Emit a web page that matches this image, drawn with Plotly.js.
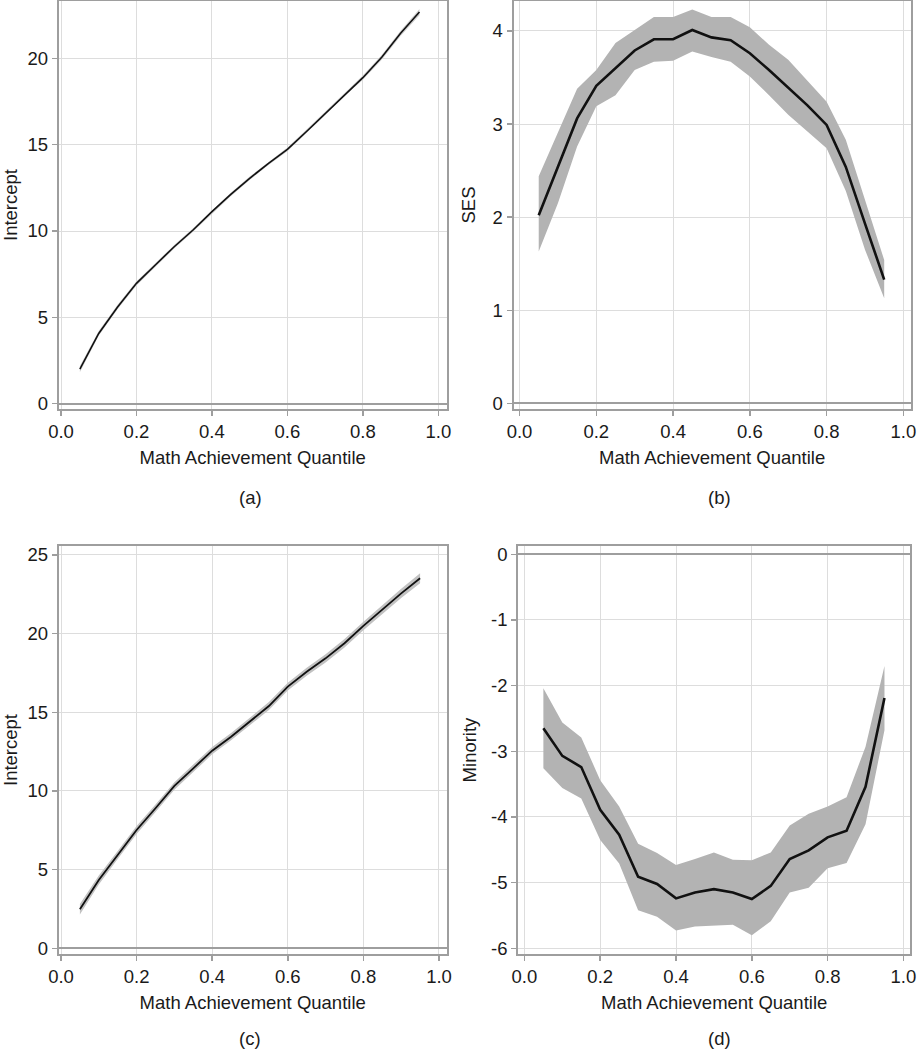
<!DOCTYPE html>
<html>
<head>
<meta charset="utf-8">
<script src="https://cdn.plot.ly/plotly-3.0.1.min.js"></script>
<style>
  html, body { margin: 0; padding: 0; background: #ffffff; }
  #chart { width: 917px; height: 1050px; }
</style>
</head>
<body>
<div id="chart"></div>
<script>
// ---- Data ----
const quantile = [0.05, 0.10, 0.15, 0.20, 0.25, 0.30, 0.35, 0.40, 0.45, 0.50,
                  0.55, 0.60, 0.65, 0.70, 0.75, 0.80, 0.85, 0.90, 0.95];

// Panel (a): Intercept
const interceptA      = [2.00, 4.07, 5.60, 6.97, 8.03, 9.09, 10.06, 11.12, 12.12, 13.05,
                         13.92, 14.73, 15.75, 16.81, 17.88, 18.88, 20.06, 21.45, 22.68];
const interceptALower = [1.82, 3.93, 5.47, 6.85, 7.92, 8.99, 9.96, 11.02, 12.02, 12.95,
                         13.82, 14.62, 15.64, 16.70, 17.77, 18.76, 19.92, 21.30, 22.50];
const interceptAUpper = [2.18, 4.21, 5.73, 7.09, 8.14, 9.19, 10.16, 11.22, 12.22, 13.15,
                         14.02, 14.84, 15.86, 16.92, 17.99, 19.00, 20.20, 21.60, 22.86];

// Panel (b): SES
const ses      = [2.02, 2.54, 3.06, 3.41, 3.60, 3.79, 3.91, 3.91, 4.01, 3.93,
                  3.90, 3.76, 3.58, 3.39, 3.20, 2.99, 2.54, 1.93, 1.33];
const sesUpper = [2.44, 2.92, 3.38, 3.58, 3.87, 4.01, 4.15, 4.15, 4.23, 4.15,
                  4.15, 4.04, 3.85, 3.69, 3.47, 3.24, 2.83, 2.19, 1.54];
const sesLower = [1.63, 2.15, 2.76, 3.19, 3.31, 3.58, 3.67, 3.68, 3.78, 3.72,
                  3.67, 3.51, 3.31, 3.10, 2.92, 2.74, 2.28, 1.65, 1.13];

// Panel (c): Intercept
const interceptC      = [2.48, 4.34, 5.93, 7.52, 8.90, 10.32, 11.44, 12.56, 13.45, 14.41,
                         15.40, 16.63, 17.58, 18.43, 19.39, 20.49, 21.55, 22.56, 23.52];
const interceptCLower = [2.15, 4.06, 5.67, 7.27, 8.66, 10.08, 11.20, 12.33, 13.22, 14.17,
                         15.15, 16.38, 17.33, 18.17, 19.12, 20.22, 21.27, 22.27, 23.20];
const interceptCUpper = [2.81, 4.62, 6.19, 7.77, 9.14, 10.56, 11.68, 12.79, 13.68, 14.65,
                         15.65, 16.88, 17.83, 18.69, 19.66, 20.76, 21.83, 22.85, 23.84];

// Panel (d): Minority
const minority      = [-2.65, -3.07, -3.24, -3.89, -4.27, -4.91, -5.02, -5.24, -5.15, -5.10,
                       -5.15, -5.25, -5.05, -4.64, -4.51, -4.31, -4.21, -3.54, -2.19];
const minorityUpper = [-2.04, -2.56, -2.79, -3.44, -3.84, -4.41, -4.55, -4.73, -4.64, -4.54,
                       -4.65, -4.66, -4.54, -4.13, -3.95, -3.84, -3.70, -2.93, -1.70];
const minorityLower = [-3.26, -3.56, -3.72, -4.35, -4.71, -5.42, -5.52, -5.73, -5.67, -5.65,
                       -5.64, -5.80, -5.59, -5.15, -5.08, -4.78, -4.70, -4.11, -2.68];

// Tick labels
const xTickVals = [0.0, 0.2, 0.4, 0.6, 0.8, 1.0];
const xTickText = ["0.0", "0.2", "0.4", "0.6", "0.8", "1.0"];
const yTickValsA = [0, 5, 10, 15, 20];
const yTickValsB = [0, 1, 2, 3, 4];
const yTickValsC = [0, 5, 10, 15, 20, 25];
const yTickValsD = [0, -1, -2, -3, -4, -5, -6];
const yTickTextD = ["0", "-1", "-2", "-3", "-4", "-5", "-6"];
const xTitle = "Math Achievement Quantile";
const yTitles = ["Intercept", "SES", "Intercept", "Minority"];
const panelLabels = ["(a)", "(b)", "(c)", "(d)"];

// ---- Helpers ----
function bandTraces(x, lower, upper, mid, xa, ya, fillColor, lineWidth) {
  return [
    { x: x, y: lower, xaxis: xa, yaxis: ya, type: "scatter", mode: "lines",
      line: { width: 0, color: fillColor }, hoverinfo: "skip", showlegend: false },
    { x: x, y: upper, xaxis: xa, yaxis: ya, type: "scatter", mode: "lines",
      fill: "tonexty", fillcolor: fillColor,
      line: { width: 0, color: fillColor }, hoverinfo: "skip", showlegend: false },
    { x: x, y: mid, xaxis: xa, yaxis: ya, type: "scatter", mode: "lines",
      line: { width: lineWidth, color: "#111111" }, showlegend: false }
  ];
}

const data = []
  .concat(bandTraces(quantile, interceptALower, interceptAUpper, interceptA, "x", "y", "#cfcfcf", 1.6))
  .concat(bandTraces(quantile, sesLower, sesUpper, ses, "x2", "y2", "#b3b3b3", 2.6))
  .concat(bandTraces(quantile, interceptCLower, interceptCUpper, interceptC, "x3", "y3", "#c2c2c2", 1.8))
  .concat(bandTraces(quantile, minorityLower, minorityUpper, minority, "x4", "y4", "#b3b3b3", 2.6));

const FONT = "Liberation Sans, Arial, sans-serif";
const FS = 18.5;
const textColor = "#1a1a1a";
const frameColor = "#9e9e9e";
const gridColor = "#dddddd";

function xAxis(domain, range, anchor, standoff) {
  return {
    domain: domain, range: range, anchor: anchor,
    tickmode: "array", tickvals: xTickVals, ticktext: xTickText,
    ticklabeloverflow: "allow",
    showgrid: true, gridcolor: gridColor, gridwidth: 1,
    zeroline: false,
    showline: true, mirror: true, linecolor: frameColor, linewidth: 2,
    ticks: "outside", ticklen: 5, tickcolor: frameColor, tickwidth: 1.5,
    tickfont: { family: FONT, size: FS, color: textColor },
    title: { text: xTitle, font: { family: FONT, size: FS, color: textColor }, standoff: standoff },
    fixedrange: true
  };
}
function yAxis(domain, range, anchor, tickvals, ticktext, title, standoff) {
  return {
    domain: domain, range: range, anchor: anchor,
    tickmode: "array", tickvals: tickvals, ticktext: ticktext,
    ticklabeloverflow: "allow",
    showgrid: true, gridcolor: gridColor, gridwidth: 1,
    zeroline: true, zerolinecolor: frameColor, zerolinewidth: 2,
    showline: true, mirror: true, linecolor: frameColor, linewidth: 2,
    ticks: "outside", ticklen: 5, tickcolor: frameColor, tickwidth: 1.5,
    tickfont: { family: FONT, size: FS, color: textColor },
    title: { text: title, font: { family: FONT, size: FS, color: textColor }, standoff: standoff },
    fixedrange: true
  };
}

const topY = [1 - 409 / 1050, 1 - 1 / 1050];
const botY = [1 - 954 / 1050, 1 - 546 / 1050];
const leftX = [58.7 / 917, 446.7 / 917];
const rightXb = [513.5 / 917, 910.8 / 917];
const rightXd = [518.2 / 917, 910.2 / 917];

const labelFont = { family: FONT, size: FS, color: textColor };
const layout = {
  width: 917, height: 1050,
  margin: { l: 0, r: 0, t: 0, b: 0 },
  paper_bgcolor: "#ffffff", plot_bgcolor: "#ffffff",
  font: { family: FONT, size: FS, color: textColor },
  showlegend: false,
  xaxis:  xAxis(leftX,   [-0.0061, 1.0222], "y",  10),
  yaxis:  yAxis(topY,    [-0.307, 23.32],   "x",  yTickValsA, yTickValsA.map(String), yTitles[0], 12),
  xaxis2: xAxis(rightXb, [-0.0157, 1.0193], "y2", 10),
  yaxis2: yAxis(topY,    [-0.06, 4.321],    "x2", yTickValsB, yTickValsB.map(String), yTitles[1], 12),
  xaxis3: xAxis(leftX,   [-0.0061, 1.0204], "y3", 10),
  yaxis3: yAxis(botY,    [-0.362, 25.57],   "x3", yTickValsC, yTickValsC.map(String), yTitles[2], 12),
  xaxis4: xAxis(rightXd, [-0.0164, 1.0179], "y4", 10),
  yaxis4: yAxis(botY,    [-6.087, 0.126],   "x4", yTickValsD, yTickTextD, yTitles[3], 10),
  annotations: [
    { text: panelLabels[0], xref: "paper", yref: "paper", x: 250 / 917, y: 1 - 497 / 1050,
      showarrow: false, xanchor: "center", yanchor: "middle", font: labelFont },
    { text: panelLabels[1], xref: "paper", yref: "paper", x: 719 / 917, y: 1 - 497 / 1050,
      showarrow: false, xanchor: "center", yanchor: "middle", font: labelFont },
    { text: panelLabels[2], xref: "paper", yref: "paper", x: 250 / 917, y: 1 - 1038 / 1050,
      showarrow: false, xanchor: "center", yanchor: "middle", font: labelFont },
    { text: panelLabels[3], xref: "paper", yref: "paper", x: 719 / 917, y: 1 - 1038 / 1050,
      showarrow: false, xanchor: "center", yanchor: "middle", font: labelFont }
  ]
};

Plotly.newPlot("chart", data, layout, { displayModeBar: false, staticPlot: true });
</script>
</body>
</html>
